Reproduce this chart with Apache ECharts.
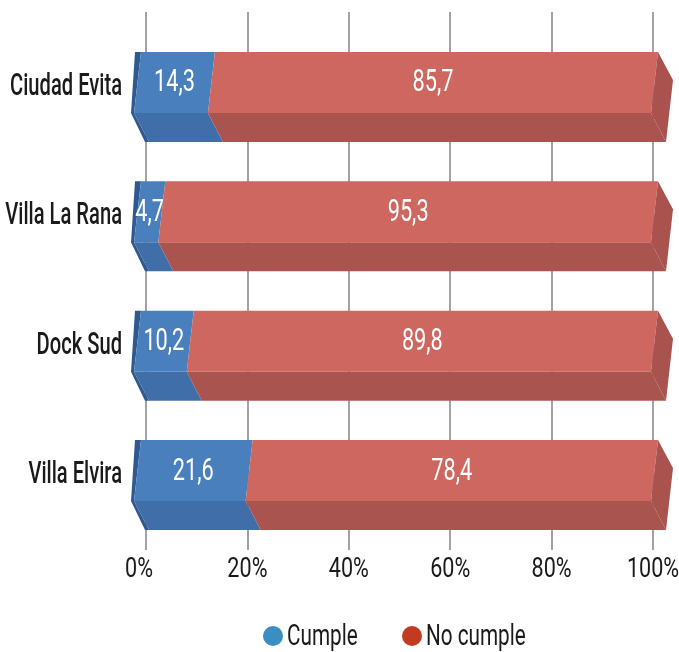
<!DOCTYPE html>
<html>
<head>
<meta charset="utf-8">
<script src="https://cdn.jsdelivr.net/npm/echarts@6/dist/echarts.min.js"></script>
<style>html,body{margin:0;padding:0;background:#fff;}#c{width:679px;height:652px;}</style>
</head>
<body>
<div id="c"></div>
<script>
const categories = ['Ciudad Evita', 'Villa La Rana', 'Dock Sud', 'Villa Elvira'];
const seriesNames = ['Cumple', 'No cumple'];
const cumple = [14.3, 4.7, 10.2, 21.6];
const noCumple = [85.7, 95.3, 89.8, 78.4];
const xTicks = [0, 20, 40, 60, 80, 100];

const FONT = 'Roboto, "Noto Sans", sans-serif';
const TEXT = '#1a1a1a';
const colors = {
  'Cumple': { front: '#4a7fbd', bottom: '#3f6ea8', cap: '#2f5a90', legend: '#3b8ec0' },
  'No cumple': { front: '#cd6760', bottom: '#aa5450', side: '#a9524e', legend: '#c23a20' }
};

function fmt(v) { return String(v).replace('.', ','); }

function makeRender(name, isFirst, isLast) {
  const c = colors[name];
  return function (params, api) {
    const cat = api.value(0), s = api.value(1), e = api.value(2), v = api.value(3);
    const p0 = api.coord([s, cat]);
    const p1 = api.coord([e, cat]);
    const cy = p0[1];
    const top = cy - 45, mid = cy + 16, bot = cy + 45;
    const x0 = p0[0], x1 = p1[0];
    const children = [];
    if (isFirst) {
      children.push({ type: 'polygon', shape: { points: [[x0 + 1, top], [x0 + 7, top], [x0, mid], [x0 + 15, bot], [x0 + 11, bot], [x0 - 3, mid]] }, style: { fill: c.cap } });
      children.push({ type: 'text', x: params.coordSys.x - 12, y: cy - 10, scaleX: 0.63, style: { text: categories[cat], x: 0, y: 0, align: 'right', verticalAlign: 'middle', fill: TEXT, font: '500 32px ' + FONT } });
    }
    children.push({ type: 'polygon', shape: { points: [[x0, mid], [x1, mid], [x1 + 15, bot], [x0 + 15, bot]] }, style: { fill: c.bottom } });
    children.push({ type: 'polygon', shape: { points: [[x0 + 7, top], [x1 + 7, top], [x1, mid], [x0, mid]] }, style: { fill: c.front } });
    if (isLast) {
      children.push({ type: 'polygon', shape: { points: [[x1 + 7, top], [x1 + 22, top + 28], [x1 + 15, bot], [x1, mid]] }, style: { fill: c.side } });
    }
    children.push({ type: 'text', x: (x0 + x1) / 2 + 3.5, y: (top + mid) / 2 + 1, scaleX: 0.68, style: { text: fmt(v), x: 0, y: 0, align: 'center', verticalAlign: 'middle', fill: '#ffffff', font: '32px ' + FONT } });
    return { type: 'group', children: children };
  };
}

function renderTick(params, api) {
  const v = api.value(0);
  const p = api.coord([v, 0]);
  const cs = params.coordSys;
  return { type: 'text', x: p[0] - (v === 0 ? 7 : 0), y: cs.y + cs.height + 20, scaleX: 0.8, style: { text: v + '%', x: 0, y: 0, align: 'center', verticalAlign: 'middle', fill: TEXT, font: '27px ' + FONT } };
}

const cumpleData = categories.map((c, i) => [i, 0, cumple[i], cumple[i]]);
const noCumpleData = categories.map((c, i) => [i, cumple[i], 100, noCumple[i]]);
const tickData = xTicks.map(v => [v]);

const legendX = [273, 412];
const legendGraphic = seriesNames.map((n, i) => ({
  type: 'group', x: legendX[i], y: 636,
  children: [
    { type: 'circle', shape: { cx: 0, cy: 0, r: 10 }, style: { fill: colors[n].legend } },
    { type: 'text', x: 14, y: 1, scaleX: 0.69, style: { text: n, x: 0, y: 0, align: 'left', verticalAlign: 'middle', fill: TEXT, font: '30px ' + FONT } }
  ]
}));

const chart = echarts.init(document.getElementById('c'), null, { renderer: 'canvas' });
chart.setOption({
  backgroundColor: '#ffffff',
  animation: false,
  graphic: legendGraphic,
  grid: [
    { left: 146, right: 26, top: 12, bottom: 102, outerBoundsMode: 'none', containLabel: false },
    { left: 134, right: 28, top: 32.3, bottom: 102.3, outerBoundsMode: 'none', containLabel: false }
  ],
  xAxis: [
    {
      gridIndex: 0, type: 'value', min: 0, max: 100, interval: 20,
      axisLine: { show: false }, axisTick: { show: false },
      splitLine: { show: true, lineStyle: { color: '#a0a3a7', width: 2 } },
      axisLabel: { show: false }
    },
    { gridIndex: 1, type: 'value', min: 0, max: 100, show: false }
  ],
  yAxis: [
    { gridIndex: 0, type: 'category', data: categories, show: false, inverse: true },
    {
      gridIndex: 1, type: 'category', data: categories, inverse: true,
      axisLine: { show: false }, axisTick: { show: false }, splitLine: { show: false },
      axisLabel: { show: false }
    }
  ],
  series: [
    { name: 'ticks', type: 'custom', xAxisIndex: 0, yAxisIndex: 0, renderItem: renderTick, data: tickData, clip: false },
    { name: seriesNames[0], type: 'custom', xAxisIndex: 1, yAxisIndex: 1, itemStyle: { color: colors[seriesNames[0]].legend }, renderItem: makeRender(seriesNames[0], true, false), data: cumpleData, clip: false },
    { name: seriesNames[1], type: 'custom', xAxisIndex: 1, yAxisIndex: 1, itemStyle: { color: colors[seriesNames[1]].legend }, renderItem: makeRender(seriesNames[1], false, true), data: noCumpleData, clip: false }
  ]
});
</script>
</body>
</html>
